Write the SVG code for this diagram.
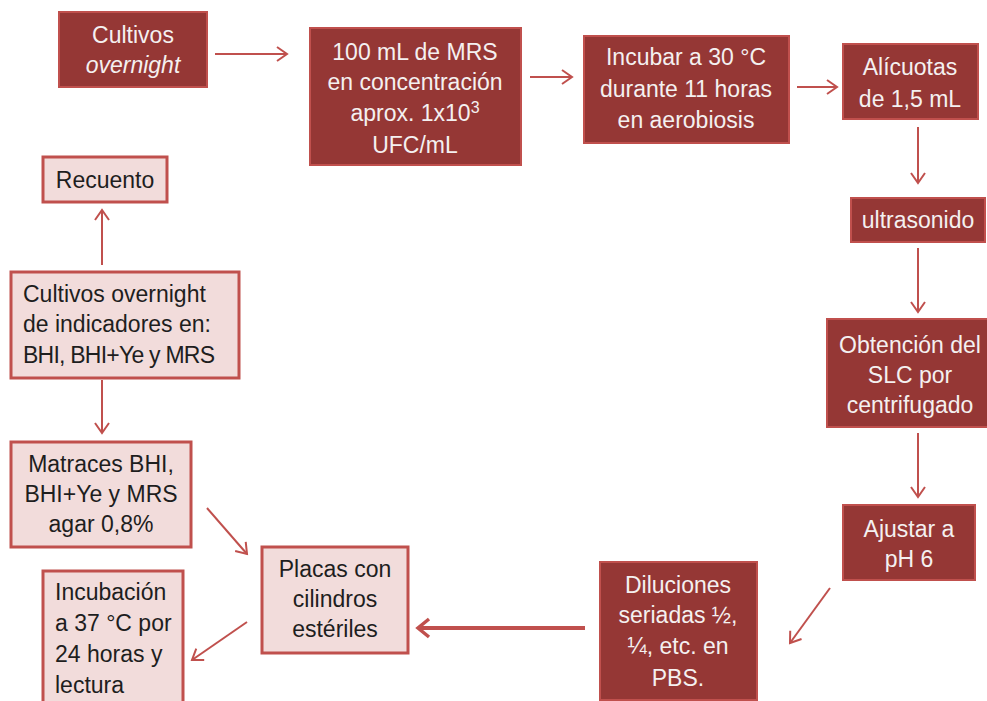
<svg xmlns="http://www.w3.org/2000/svg" width="987" height="701" viewBox="0 0 987 701">
<defs>
<style>
.dark rect{fill:#953735;stroke:#c0504d;stroke-width:2}
.light rect{fill:#f2dcdb;stroke:#c0504d;stroke-width:3}
text{font-family:"Liberation Sans",Arial,sans-serif;font-size:23px}
.dark text{fill:#f4f0f0;text-anchor:middle}
.light text{fill:#1e1e1e}
.c{text-anchor:middle}
.conn line{stroke:#c0504d;stroke-width:2;fill:none}
</style>
<marker id="ah" markerUnits="userSpaceOnUse" markerWidth="14" markerHeight="16" refX="11" refY="8" orient="auto" viewBox="0 0 14 16">
<path d="M1,1 L11,8 L1,15" fill="none" stroke="#c0504d" stroke-width="2"/>
</marker>
<marker id="ahb" markerUnits="userSpaceOnUse" markerWidth="18" markerHeight="22" refX="15" refY="11" orient="auto" viewBox="0 0 18 22">
<path d="M4,2 L15,11 L4,20" fill="none" stroke="#c0504d" stroke-width="3.5"/>
</marker>
</defs>
<rect width="987" height="701" fill="#ffffff"/>

<g id="n1" class="dark"><rect x="59" y="12" width="148" height="75"/><text x="133" y="43">Cultivos</text><text x="133" y="73" font-style="italic">overnight</text></g>
<g id="n2" class="dark"><rect x="310" y="28" width="211" height="137"/><text x="415" y="60">100 mL de MRS</text><text x="415" y="90">en concentración</text><text x="415" y="121">aprox. 1x10<tspan font-size="16" dy="-8">3</tspan></text><text x="415" y="153">UFC/mL</text></g>
<g id="n3" class="dark"><rect x="584" y="36" width="205" height="107"/><text x="686" y="65">Incubar a 30 °C</text><text x="686" y="97">durante 11 horas</text><text x="686" y="128">en aerobiosis</text></g>
<g id="n4" class="dark"><rect x="843" y="44" width="135" height="75"/><text x="910" y="75">Alícuotas</text><text x="910" y="107">de 1,5 mL</text></g>
<g id="n5" class="dark"><rect x="851" y="198" width="134" height="44"/><text x="918" y="228">ultrasonido</text></g>
<g id="n6" class="dark"><rect x="827" y="319" width="165" height="108"/><text x="910" y="353">Obtención del</text><text x="910" y="383">SLC por</text><text x="910" y="413">centrifugado</text></g>
<g id="n7" class="dark"><rect x="843" y="505" width="132" height="75"/><text x="909" y="537">Ajustar a</text><text x="909" y="567">pH 6</text></g>
<g id="n8" class="dark"><rect x="600" y="562" width="157" height="138"/><text x="678" y="593">Diluciones</text><text x="678" y="623">seriadas ½,</text><text x="678" y="654">¼, etc. en</text><text x="678" y="686">PBS.</text></g>
<g id="n9" class="light"><rect x="262" y="547" width="146" height="106"/><text class="c" x="335" y="577">Placas con</text><text class="c" x="335" y="607">cilindros</text><text class="c" x="335" y="637">estériles</text></g>
<g id="n10" class="light"><rect x="43" y="571" width="140" height="140"/><text x="55" y="600">Incubación</text><text x="55" y="631">a 37 °C por</text><text x="55" y="662">24 horas y</text><text x="55" y="693">lectura</text></g>
<g id="n11" class="light"><rect x="43" y="157" width="124" height="45"/><text class="c" x="105" y="188">Recuento</text></g>
<g id="n12" class="light"><rect x="11" y="272" width="228" height="106"/><text x="23" y="302">Cultivos overnight</text><text x="23" y="332">de indicadores en:</text><text x="23" y="363" textLength="192">BHI, BHI+Ye y MRS</text></g>
<g id="n13" class="light"><rect x="11" y="442" width="180" height="105"/><text class="c" x="101" y="472">Matraces BHI,</text><text class="c" x="101" y="502">BHI+Ye y MRS</text><text class="c" x="101" y="532">agar 0,8%</text></g>

<g id="connectors" class="conn">
<line x1="215" y1="54" x2="287" y2="54" marker-end="url(#ah)"/>
<line x1="530" y1="77" x2="572" y2="77" marker-end="url(#ah)"/>
<line x1="797" y1="87" x2="837" y2="87" marker-end="url(#ah)"/>
<line x1="918" y1="127" x2="918" y2="183" marker-end="url(#ah)"/>
<line x1="918" y1="248" x2="918" y2="312" marker-end="url(#ah)"/>
<line x1="918" y1="433" x2="918" y2="497" marker-end="url(#ah)"/>
<line x1="830" y1="588" x2="790" y2="643" marker-end="url(#ah)"/>
<line x1="585" y1="628" x2="418" y2="628" style="stroke-width:4" marker-end="url(#ahb)"/>
<line x1="207" y1="508" x2="247" y2="554" marker-end="url(#ah)"/>
<line x1="247" y1="622" x2="192" y2="660" marker-end="url(#ah)"/>
<line x1="102" y1="265" x2="102" y2="210" marker-end="url(#ah)"/>
<line x1="102" y1="380" x2="102" y2="433" marker-end="url(#ah)"/>
</g>
</svg>
